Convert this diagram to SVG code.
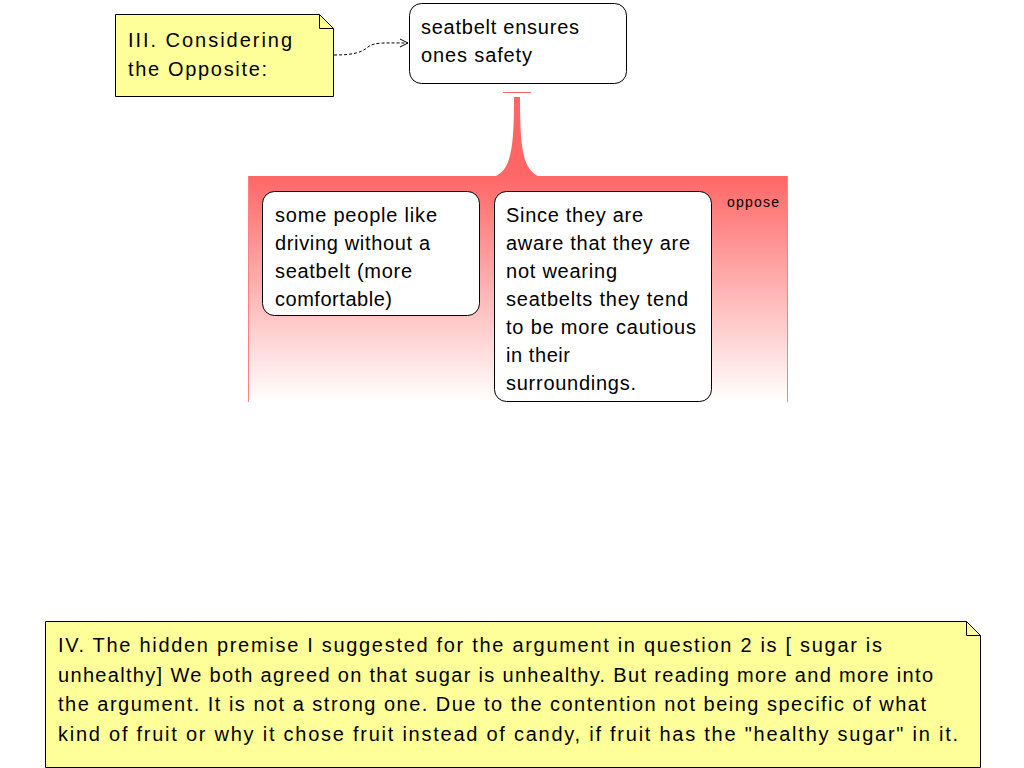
<svg xmlns="http://www.w3.org/2000/svg" width="1024" height="768" viewBox="0 0 1024 768">
<style>
.note{fill:#ffff99;stroke:#000;stroke-width:1}
.fold{fill:none;stroke:#000;stroke-width:1}
.box{fill:#fff;stroke:#000;stroke-width:1}
.nt{font-family:"Comic Sans MS","Liberation Sans",sans-serif;font-size:20px;fill:#000}
.bt{font-family:"Liberation Sans",Arial,sans-serif;font-size:20px;fill:#000}
.lbl{font-family:"Liberation Sans",Arial,sans-serif;font-size:14px;fill:#000}
</style>
<defs>
<linearGradient id="g" x1="0" y1="0" x2="0" y2="1">
<stop offset="0" stop-color="#ff6666"/>
<stop offset="1" stop-color="#ff6666" stop-opacity="0"/>
</linearGradient>
<marker id="arr" markerWidth="10" markerHeight="10" refX="9" refY="5" orient="auto" markerUnits="userSpaceOnUse">
<path d="M1,1 L9,5 L1,9" fill="none" stroke="#000" stroke-width="1"/>
</marker>
</defs>
<rect width="1024" height="768" fill="#fff"/>
<g id="connectors">
<path d="M334,55 C355,55 362,52 368,47 C374,42 385,43 408,43" fill="none" stroke="#000" stroke-dasharray="3,2" marker-end="url(#arr)"/>
<line x1="503" y1="92.5" x2="531" y2="92.5" stroke="#ff6666" stroke-width="1"/>
<path d="M514,97 L520,97 C520,150 523,170 540,177 L494,177 C511,170 514,150 514,97 Z" fill="#ff6666"/>
</g>
<g id="oppose-group">
<rect x="248" y="176" width="540" height="226" fill="url(#g)"/>
<line x1="248.5" y1="176" x2="248.5" y2="402" stroke="#ff8080" stroke-width="1"/>
<line x1="787.5" y1="176" x2="787.5" y2="402" stroke="#ff8080" stroke-width="1"/>
<text class="lbl" x="727" y="207" textLength="52">oppose</text>
</g>
<g id="note3">
<path class="note" d="M115.5,14.5 H319.5 L333.5,28.5 V96.5 H115.5 Z"/>
<path class="fold" d="M319.5,14.5 V28.5 H333.5"/>
<text class="nt" x="128" y="47" textLength="164">III. Considering</text>
<text class="nt" x="128" y="76" textLength="139">the Opposite:</text>
</g>
<g id="claim">
<rect class="box" x="409.5" y="3.5" width="217" height="80" rx="12"/>
<text class="bt" x="421" y="34" textLength="158">seatbelt ensures</text>
<text class="bt" x="421" y="62" textLength="111">ones safety</text>
</g>
<g id="objA">
<rect class="box" x="262.5" y="191.5" width="217" height="124" rx="12"/>
<text class="bt" x="275" y="222" textLength="162">some people like</text>
<text class="bt" x="275" y="250" textLength="155">driving without a</text>
<text class="bt" x="275" y="278" textLength="137">seatbelt (more</text>
<text class="bt" x="275" y="306" textLength="117">comfortable)</text>
</g>
<g id="objB">
<rect class="box" x="494.5" y="191.5" width="217" height="210" rx="12"/>
<text class="bt" x="506" y="222" textLength="137">Since they are</text>
<text class="bt" x="506" y="250" textLength="184">aware that they are</text>
<text class="bt" x="506" y="278" textLength="111">not wearing</text>
<text class="bt" x="506" y="306" textLength="182">seatbelts they tend</text>
<text class="bt" x="506" y="334" textLength="190">to be more cautious</text>
<text class="bt" x="506" y="362" textLength="64">in their</text>
<text class="bt" x="506" y="390" textLength="130">surroundings.</text>
</g>
<g id="note4">
<path class="note" d="M45.5,621.5 H966.5 L980.5,635.5 V767.5 H45.5 Z"/>
<path class="fold" d="M966.5,621.5 V635.5 H980.5"/>
<text class="nt" x="58" y="652" textLength="824">IV. The hidden premise I suggested for the argument  in question 2 is [ sugar is</text>
<text class="nt" x="58" y="682" textLength="875">unhealthy] We both agreed on that sugar is unhealthy. But reading more and more into</text>
<text class="nt" x="58" y="711" textLength="868">the argument. It is not a strong one. Due to the contention not being specific of what</text>
<text class="nt" x="58" y="741" textLength="900">kind of fruit or why it chose fruit instead of candy, if fruit has the "healthy sugar" in it.</text>
</g>
</svg>
